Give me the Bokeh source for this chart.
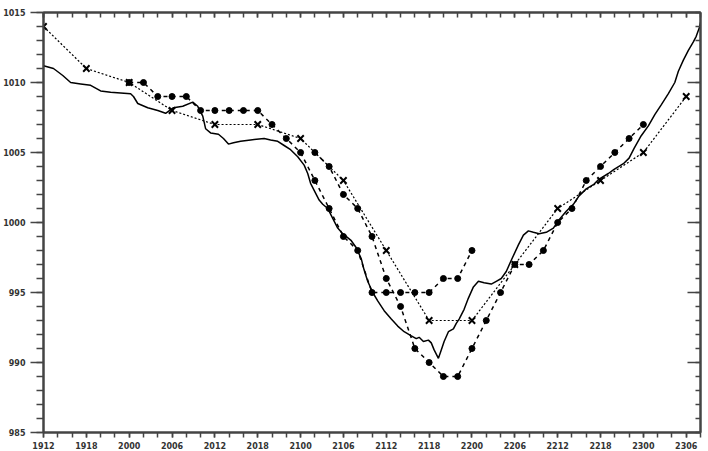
from bokeh.plotting import figure
from bokeh.models import Range1d, LinearAxis, FixedTicker, CustomJSTickFormatter
from bokeh.embed import file_html
from bokeh.resources import INLINE

# x axis: hours since 19th 12 UTC; labels are DDHH
tick_hours = [0, 6, 12, 18, 24, 30, 36, 42, 48, 54, 60, 66, 72, 78, 84, 90]
tick_labels = ["1912", "1918", "2000", "2006", "2012", "2018", "2100", "2106",
               "2112", "2118", "2200", "2206", "2212", "2218", "2300", "2306"]
minor_hours = list(range(0, 93, 2))
y_major = [985, 990, 995, 1000, 1005, 1010, 1015]
y_minor = list(range(985, 1016))

# 6-hourly values (crosses, dotted line)
cross_hours = [0, 6, 12, 18, 24, 30, 36, 42, 48, 54, 60, 66, 72, 78, 84, 90]
cross_values = [1014, 1011, 1010, 1008, 1007, 1007, 1006, 1003, 998, 993, 993,
                997, 1001, 1003, 1005, 1009]

# 2-hourly series 1 (dots, dashed) 2000 -> 2200
dot1_hours = [12, 14, 16, 18, 20, 22, 24, 26, 28, 30, 32, 34, 36, 38, 40, 42,
              44, 46, 48, 50, 52, 54, 56, 58, 60]
dot1_values = [1010, 1010, 1009, 1009, 1009, 1008, 1008, 1008, 1008, 1008, 1007,
               1006, 1005, 1003, 1001, 999, 998, 995, 995, 995, 995, 995, 996,
               996, 998]

# 2-hourly series 2 (dots, dashed) 2102 -> 2300
dot2_hours = [38, 40, 42, 44, 46, 48, 50, 52, 54, 56, 58, 60, 62, 64, 66, 68,
              70, 72, 74, 76, 78, 80, 82, 84]
dot2_values = [1005, 1004, 1002, 1001, 999, 996, 994, 991, 990, 989, 989, 991,
               993, 995, 997, 997, 998, 1000, 1001, 1003, 1004, 1005, 1006, 1007]

# observed trace (solid line)
obs_hours = [0.0, 1.4, 2.7, 3.8, 5.2, 6.6, 8.0, 9.4, 10.8, 12.2, 12.6, 13.2,
             14.6, 16.0, 17.1, 18.2, 19.5, 20.9, 21.6, 22.3, 22.7, 23.4, 24.5,
             25.2, 25.9, 26.6, 27.6, 29.0, 30.9, 31.8, 32.8, 33.7, 34.6, 35.6,
             36.5, 37.0, 37.4, 37.9, 38.6, 39.1, 39.8, 40.5, 41.2, 41.9, 43.1,
             43.8, 44.5, 44.9, 45.4, 46.1, 46.8, 47.7, 48.7, 49.6, 50.5, 51.5,
             52.2, 52.6, 53.2, 53.9, 54.3, 54.7, 55.3, 55.7, 56.1, 56.7, 57.4,
             57.8, 58.2, 58.9, 59.5, 60.2, 60.9, 61.7, 62.7, 63.4, 64.1, 64.8,
             65.5, 66.5, 67.2, 67.9, 68.6, 69.4, 70.4, 71.4, 72.2, 73.2, 74.2,
             75.0, 76.0, 77.0, 77.8, 79.1, 79.9, 81.2, 82.0, 82.7, 83.7, 84.7,
             85.6, 86.5, 87.5, 88.4, 88.9, 89.6, 90.3, 91.0, 91.4, 91.9, 92.1]
obs_values = [1011.2, 1011.0, 1010.5, 1010.0, 1009.9, 1009.8, 1009.4, 1009.3,
              1009.25, 1009.2, 1009.0, 1008.5, 1008.2, 1008.0, 1007.8, 1008.2,
              1008.3, 1008.6, 1008.3, 1007.6, 1006.7, 1006.4, 1006.3, 1006.0,
              1005.6, 1005.7, 1005.8, 1005.9, 1006.0, 1005.9, 1005.8, 1005.5,
              1005.2, 1004.7, 1004.1, 1003.5, 1002.8, 1002.3, 1001.6, 1001.3,
              1001.0, 1000.3, 999.6, 999.2, 998.7, 998.2, 997.4, 996.6, 995.8,
              995.0, 994.4, 993.7, 993.1, 992.6, 992.2, 991.9, 991.7, 991.8,
              991.5, 991.6, 991.4, 990.9, 990.3, 990.9, 991.5, 992.2, 992.4,
              992.8, 993.1, 993.8, 994.6, 995.4, 995.8, 995.7, 995.6, 995.8,
              996.0, 996.5, 997.3, 998.4, 999.1, 999.4, 999.3, 999.2, 999.3,
              999.6, 1000.2, 1000.8, 1001.3, 1001.9, 1002.4, 1002.7, 1003.1,
              1003.5, 1003.8, 1004.2, 1004.6, 1005.3, 1006.2, 1006.9, 1007.7,
              1008.4, 1009.2, 1010.0, 1010.8, 1011.6, 1012.3, 1012.9, 1013.3,
              1014.0, 1014.5]

FRAME = "#444444"
TXT = "#333333"

p = figure(width=708, height=451, output_backend="svg", toolbar_location=None,
           x_range=Range1d(0, 92), y_range=Range1d(985, 1015),
           min_border_left=43, min_border_right=8, min_border_top=12,
           min_border_bottom=19)
p.grid.visible = False
p.outline_line_color = FRAME
p.outline_line_width = 2
p.background_fill_color = "white"
p.border_fill_color = "white"

# bottom axis
xa = p.xaxis[0]
xa.ticker = FixedTicker(ticks=tick_hours, minor_ticks=minor_hours)
xa.major_label_overrides = {h: s for h, s in zip(tick_hours, tick_labels)}
xa.major_tick_in = 0
xa.major_tick_out = 5
xa.minor_tick_in = 0
xa.minor_tick_out = 5
xa.major_label_standoff = 4

# left axis
ya = p.yaxis[0]
ya.ticker = FixedTicker(ticks=y_major, minor_ticks=y_minor)
ya.major_tick_in = 0
ya.major_tick_out = 13
ya.minor_tick_in = 0
ya.minor_tick_out = 7
ya.major_label_standoff = 5

for ax in (xa, ya):
    ax.axis_line_color = FRAME
    ax.axis_line_width = 2
    ax.major_tick_line_color = FRAME
    ax.minor_tick_line_color = FRAME
    ax.major_tick_line_width = 1.5
    ax.minor_tick_line_width = 1.5
    ax.major_label_text_font = "DejaVu Sans"
    ax.major_label_text_font_style = "bold"
    ax.major_label_text_font_size = "8px"
    ax.major_label_text_color = TXT

blank = CustomJSTickFormatter(code="return '';")

# top axis (ticks inside, no labels)
top = LinearAxis(ticker=FixedTicker(ticks=tick_hours, minor_ticks=minor_hours),
                 formatter=blank, major_label_text_alpha=0,
                 major_tick_in=5, major_tick_out=0, minor_tick_in=5,
                 minor_tick_out=0, major_label_text_font_size="1px",
                 major_label_standoff=0, axis_line_color=FRAME,
                 axis_line_width=2, major_tick_line_color=FRAME,
                 minor_tick_line_color=FRAME, major_tick_line_width=1.5,
                 minor_tick_line_width=1.5)
p.add_layout(top, "above")

# right axis (ticks inside, no labels)
right = LinearAxis(ticker=FixedTicker(ticks=y_major, minor_ticks=y_minor),
                   formatter=blank, major_label_text_alpha=0,
                   major_tick_in=13, major_tick_out=0, minor_tick_in=5,
                   minor_tick_out=0, major_label_text_font_size="1px",
                   major_label_standoff=0, axis_line_color=FRAME,
                   axis_line_width=2, major_tick_line_color=FRAME,
                   minor_tick_line_color=FRAME, major_tick_line_width=1.5,
                   minor_tick_line_width=1.5)
p.add_layout(right, "right")

# observed solid line
p.line(obs_hours, obs_values, line_color="black", line_width=1.5)

# dashed dot series
p.line(dot1_hours, dot1_values, line_color="black", line_width=1.5,
       line_dash="4 4")
p.scatter(dot1_hours, dot1_values, marker="circle", size=6,
          fill_color="black", line_color="black")
p.line(dot2_hours, dot2_values, line_color="black", line_width=1.5,
       line_dash="4 4")
p.scatter(dot2_hours, dot2_values, marker="circle", size=6,
          fill_color="black", line_color="black")

# dotted cross series
p.line(cross_hours, cross_values, line_color="black", line_width=1.2,
       line_dash="2 2")
p.scatter(cross_hours, cross_values, marker="x", size=9,
          line_color="black", line_width=2)

open("out.html", "w").write(file_html(p, INLINE))
